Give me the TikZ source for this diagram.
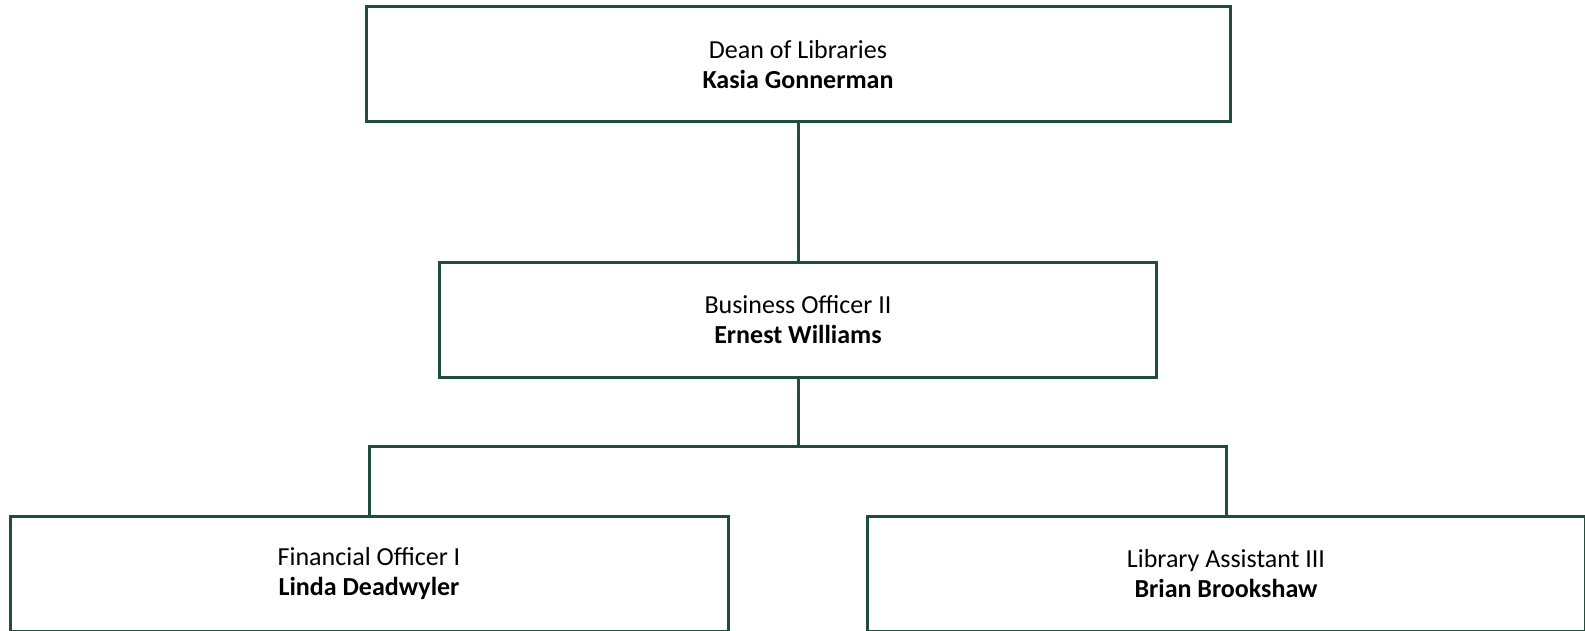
\documentclass[tikz,border=0pt]{standalone}
\usepackage{fontspec}
\setmainfont{Carlito}
\usepackage{xcolor}
\usepackage{tikz}
\usetikzlibrary{positioning}
\definecolor{libgreen}{HTML}{1F4E3D}

\begin{document}
\begin{tikzpicture}[x=1pt, y=-1pt]
		\useasboundingbox (0,0) rectangle (1585,631);
		\begin{scope}[every node/.style = {rectangle, draw=libgreen, line width=3pt, align=center, minimum height=115pt, font=\fontsize{26}{30}\selectfont}]
			\node[minimum width=864pt] (dean) at (798,64.5) {Dean of Libraries\\\textbf{Kasia Gonnerman}};
			\node[minimum width=717pt] (bus) at (798,319.5) {Business Officer II\\\textbf{Ernest Williams}};
			\node[minimum width=718pt] (fin) at (369,573.5) {Financial Officer I\\\textbf{Linda Deadwyler}};
			\node[minimum width=718pt] (lib) at (1226,573.5) {Library Assistant III\\\textbf{Brian Brookshaw}};
		\end{scope}
		\coordinate (split) at (798,446);
		\begin{scope}[draw=libgreen, line width=3pt]
			\path[-] (dean) edge (bus);
			\path[-] (bus) edge (split);
			\draw (split) -| (fin.north);
			\draw (split) -| (lib.north);
		\end{scope}
	\end{tikzpicture}
\end{document}
